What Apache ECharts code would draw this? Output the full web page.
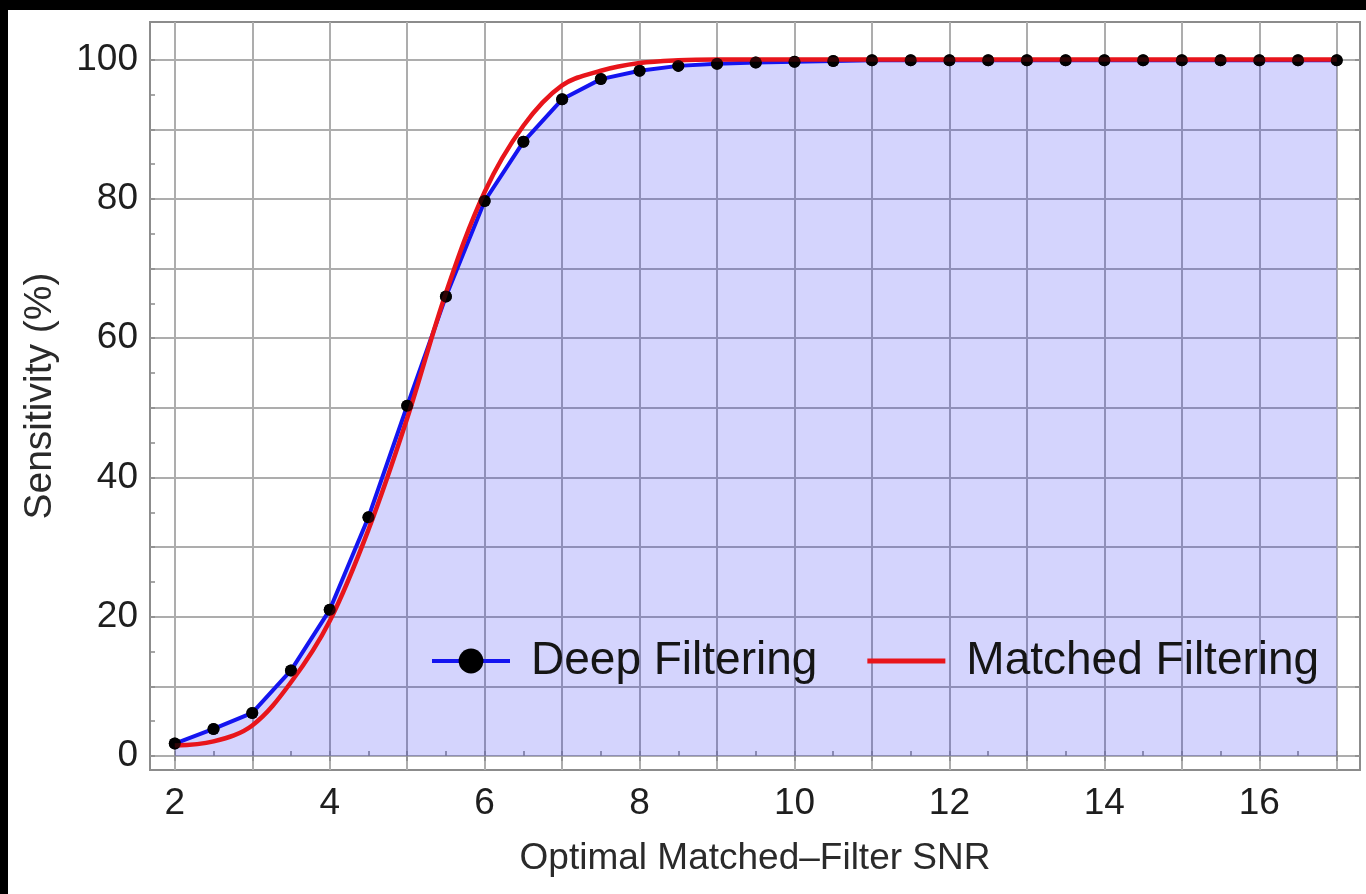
<!DOCTYPE html>
<html>
<head>
<meta charset="utf-8">
<script src="https://cdn.jsdelivr.net/npm/echarts@6/dist/echarts.min.js"></script>
<style>
  html, body { margin: 0; padding: 0; background: #000; }
  #chart { position: absolute; left: 8px; top: 10px; width: 1358px; height: 884px; background: #fff; }
</style>
</head>
<body>
<div id="chart"></div>
<script>
// Sensitivity of the deep-filtering network (points every 0.5 SNR)
const deepSnr = [2, 2.5, 3, 3.5, 4, 4.5, 5, 5.5, 6, 6.5, 7, 7.5, 8, 8.5, 9, 9.5, 10,
  10.5, 11, 11.5, 12, 12.5, 13, 13.5, 14, 14.5, 15, 15.5, 16, 16.5, 17];
const deepSensitivity = [1.8, 3.9, 6.2, 12.3, 21.0, 34.3, 50.3, 66.0, 79.7, 88.2, 94.3, 97.2,
  98.4, 99.1, 99.4, 99.6, 99.7, 99.8, 99.9, 99.9, 99.9, 99.9, 99.9, 99.9, 99.9, 99.9, 99.9, 99.9, 99.9, 99.9, 99.9];

// Sensitivity of the matched-filter search
const matchedSnr = [2, 2.5, 3, 3.5, 4, 4.5, 5, 5.5, 6, 6.5, 7, 7.5, 8, 8.5, 9, 10, 11, 12, 13, 14, 15, 16, 17];
const matchedSensitivity = [1.5, 2.1, 4.4, 10.6, 19.4, 32.5, 48.5, 66.5, 81.0, 90.5, 96.3, 98.4,
  99.5, 99.9, 100, 100, 100, 100, 100, 100, 100, 100, 100];

// Axis ticks and labels
const xLabelValues = [2, 4, 6, 8, 10, 12, 14, 16];
const xGridValues = [2, 3, 4, 5, 6, 7, 8, 9, 10, 11, 12, 13, 14, 15, 16, 17];
const xMinorValues = [2, 2.5, 3, 3.5, 4, 4.5, 5, 5.5, 6, 6.5, 7, 7.5, 8, 8.5, 9, 9.5, 10,
  10.5, 11, 11.5, 12, 12.5, 13, 13.5, 14, 14.5, 15, 15.5, 16, 16.5, 17];
const yLabelValues = [0, 20, 40, 60, 80, 100];
const yGridValues = [0, 10, 20, 30, 40, 50, 60, 70, 80, 90, 100];
const yMinorValues = [0, 5, 10, 15, 20, 25, 30, 35, 40, 45, 50, 55, 60, 65, 70, 75, 80, 85, 90, 95, 100];

const FONT = "'Liberation Sans', Arial, sans-serif";
const zip = (xs, ys) => xs.map((x, i) => [x, ys[i]]);

const chart = echarts.init(document.getElementById('chart'), null, { renderer: 'canvas' });

const gridLine = { show: true, lineStyle: { color: '#adadad', width: 2 } };
const tickStyle = { color: '#8a8a8a', width: 1.5 };

chart.setOption({
  animation: false,
  backgroundColor: '#fff',
  grid: {
    left: 142, top: 12, right: 6, bottom: 124,
    show: true, borderColor: '#8c8c8c', borderWidth: 2, backgroundColor: 'transparent'
  },
  legend: {
    left: 417, top: 623,
    itemWidth: 78, itemHeight: 31, itemGap: 50,
    textStyle: { fontFamily: FONT, fontSize: 46, color: '#151515', padding: [0, 0, 0, 16] },
    data: [
      { name: 'Deep Filtering', lineStyle: { width: 4, color: '#1414f0' } },
      { name: 'Matched Filtering', icon: 'path://M0,0 L78,0 L78,5 L0,5 Z' }
    ]
  },
  xAxis: [
    {
      type: 'value', position: 'bottom', min: 1.68, max: 17.3,
      name: 'Optimal Matched\u2013Filter SNR', nameLocation: 'middle', nameGap: 70,
      nameTextStyle: { fontFamily: FONT, fontSize: 37, color: '#2a2a2a' },
      axisLine: { show: false },
      axisTick: { show: true, inside: true, length: 5, lineStyle: tickStyle, customValues: xMinorValues },
      axisLabel: { fontFamily: FONT, fontSize: 37, color: '#1e1e1e', margin: 15, customValues: xLabelValues },
      splitLine: { show: false }
    },
    {
      type: 'value', position: 'top', min: 1.68, max: 17.3,
      axisLine: { show: false },
      axisTick: { show: true, inside: true, length: 5, lineStyle: tickStyle, customValues: xGridValues },
      axisLabel: { show: false },
      splitLine: gridLine
    }
  ],
  yAxis: [
    {
      type: 'value', position: 'left', min: -2, max: 105.4,
      name: 'Sensitivity (%)', nameLocation: 'middle', nameGap: 90,
      nameTextStyle: { fontFamily: FONT, fontSize: 39, color: '#2a2a2a' },
      axisLine: { show: false },
      axisTick: { show: true, inside: true, length: 5, lineStyle: tickStyle, customValues: yMinorValues },
      axisLabel: { fontFamily: FONT, fontSize: 37, color: '#1e1e1e', margin: 12, customValues: yLabelValues },
      splitLine: { show: false }
    },
    {
      type: 'value', position: 'right', min: -2, max: 105.4,
      axisLine: { show: false },
      axisTick: { show: true, inside: true, length: 5, lineStyle: tickStyle, customValues: yGridValues },
      axisLabel: { show: false },
      splitLine: gridLine
    }
  ],
  series: [
    {
      name: 'Deep Filtering', type: 'line', xAxisIndex: 0, yAxisIndex: 0, z: 2,
      data: zip(deepSnr, deepSensitivity),
      symbol: 'circle', symbolSize: 12, showSymbol: true,
      itemStyle: { color: '#000' },
      lineStyle: { color: '#1414f0', width: 4 },
      areaStyle: { color: 'rgba(0, 0, 245, 0.24)', origin: 'auto' }
    },
    {
      name: 'Matched Filtering', type: 'line', xAxisIndex: 0, yAxisIndex: 0, z: 3,
      data: zip(matchedSnr, matchedSensitivity),
      symbol: 'none', smooth: 0.35,
      itemStyle: { color: '#e8151b' },
      lineStyle: { color: '#e8151b', width: 4.5 }
    },
    {
      name: 'Deep Filtering markers', type: 'scatter', xAxisIndex: 0, yAxisIndex: 0, z: 4,
      data: zip(deepSnr, deepSensitivity),
      symbol: 'circle', symbolSize: 12,
      itemStyle: { color: '#000' }
    }
  ]
});
</script>
</body>
</html>
